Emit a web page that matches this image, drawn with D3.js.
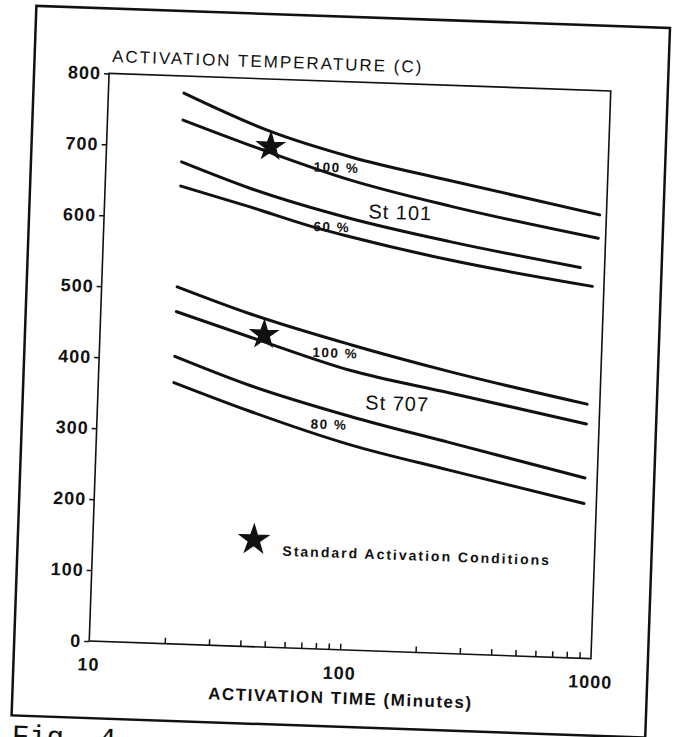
<!DOCTYPE html>
<html>
<head>
<meta charset="utf-8">
<script src="https://cdn.jsdelivr.net/npm/d3@7"></script>
<style>
  html, body { margin: 0; padding: 0; background: #fff; }
  svg { display: block; }
</style>
</head>
<body>
<svg id="chart" width="677" height="737"></svg>
<script>
// axis values
var timeTicks = [20, 30, 40, 50, 60, 70, 80, 90, 100, 200, 300, 400, 500, 600, 700, 800, 900];
var timeLabels = [10, 100, 1000];
var tempTicks = [0, 100, 200, 300, 400, 500, 600, 700, 800];

// curves, [minutes, deg C]
var st101Upper100 = [[20, 776], [45, 726], [95, 694], [235, 666], [940, 625]];
var st101Lower100 = [[20, 738], [41, 701], [94, 662], [238, 630], [935, 592]];
var st101Upper60 = [[20, 679], [38, 645], [95, 608], [240, 580], [800, 550]];
var st101Lower60 = [[20, 645], [38, 619], [68, 594], [96, 582], [242, 554], [900, 524]];
var st707Upper100 = [[20, 503], [39, 469], [100, 430], [250, 397], [890, 358]];
var st707Lower100 = [[20, 468], [43, 432], [100, 394], [252, 367], [890, 330]];
var st707Upper80 = [[20, 405], [40, 368], [102, 329], [256, 297], [894, 254]];
var st707Lower80 = [[20, 368], [40, 332], [103, 289], [259, 258], [893, 218]];

// standard activation conditions (stars)
var stdConditions = [[45, 705], [45, 440]];

// in-plot labels: text, minutes, deg C
var labelTexts = ["100 %", "St 101", "60 %", "100 %", "St 707", "80 %"];
var labelTimes = [83, 151, 81, 87, 156, 84];
var labelTemps = [679, 619, 595, 418, 350, 317];
var labelBig = [false, true, false, false, true, false];

var curves = [st101Upper100, st101Lower100, st101Upper60, st101Lower60,
              st707Upper100, st707Lower100, st707Upper80, st707Lower80];

var ink = "#111";
var plotLeft = 99, plotTop = 82, plotW = 502, plotH = 568;
var fontSans = "'Liberation Sans', Arial, sans-serif";

var svg = d3.select("#chart");
// the scan is tilted a little, so the whole page is turned
var page = svg.append("g").attr("transform", "rotate(2, 350, 366)");

var x = d3.scaleLog().domain([10, 1000]).range([plotLeft, plotLeft + plotW]);
var y = d3.scaleLinear().domain([0, 800]).range([plotTop + plotH, plotTop]);

// outer border of the figure
page.append("rect")
  .attr("x", 24).attr("y", 17)
  .attr("width", 634).attr("height", 710)
  .attr("fill", "none").attr("stroke", ink).attr("stroke-width", 2.5);

// plot frame
page.append("rect")
  .attr("x", plotLeft).attr("y", plotTop)
  .attr("width", plotW).attr("height", plotH)
  .attr("fill", "none").attr("stroke", ink).attr("stroke-width", 1.6);

// y axis
var yAxis = page.append("g")
  .attr("transform", "translate(" + plotLeft + ",0)")
  .call(d3.axisLeft(y).tickValues(tempTicks).tickSize(5).tickPadding(3).tickFormat(d3.format("d")));
yAxis.select(".domain").remove();
yAxis.selectAll("line").attr("stroke", ink).attr("stroke-width", 1.5);
yAxis.selectAll("text")
  .attr("fill", ink)
  .style("font-family", fontSans)
  .style("font-size", "18px").style("font-weight", "bold")
  .style("letter-spacing", "1px");

// x axis, minor ticks pointing in
var xAxis = page.append("g")
  .attr("transform", "translate(0," + (plotTop + plotH) + ")")
  .call(d3.axisBottom(x).tickValues(timeTicks).tickSize(-6).tickFormat(""));
xAxis.select(".domain").remove();
xAxis.selectAll("line").attr("stroke", ink).attr("stroke-width", 1.5);

page.selectAll(".xlab")
  .data(timeLabels)
  .enter().append("text")
  .attr("class", "xlab")
  .attr("x", function(d) { return x(d); })
  .attr("y", plotTop + plotH + 29.5)
  .attr("text-anchor", "middle")
  .attr("fill", ink)
  .style("font-family", fontSans)
  .style("font-size", "18px").style("font-weight", "bold")
  .style("letter-spacing", "1px")
  .text(function(d) { return d; });

// axis titles
page.append("text")
  .attr("x", plotLeft + 2.5).attr("y", plotTop - 11.5)
  .attr("fill", ink)
  .style("font-family", fontSans)
  .style("font-size", "17px")
  .style("letter-spacing", "2px")
  .text("ACTIVATION TEMPERATURE (C)");

page.append("text")
  .attr("x", plotLeft + plotW / 2 + 2).attr("y", plotTop + plotH + 54)
  .attr("text-anchor", "middle")
  .attr("fill", ink)
  .style("font-family", fontSans)
  .style("font-size", "17px").style("font-weight", "bold")
  .style("letter-spacing", "1.5px")
  .text("ACTIVATION TIME (Minutes)");

// curves
var line = d3.line()
  .x(function(d) { return x(d[0]); })
  .y(function(d) { return y(d[1]); })
  .curve(d3.curveMonotoneX);

page.selectAll(".curve")
  .data(curves)
  .enter().append("path")
  .attr("class", "curve")
  .attr("d", line)
  .attr("fill", "none")
  .attr("stroke", ink)
  .attr("stroke-width", 3)
  .attr("stroke-linecap", "round");

// stars
var star = d3.symbol().type(d3.symbolStar);
page.selectAll(".std")
  .data(stdConditions)
  .enter().append("path")
  .attr("class", "std")
  .attr("transform", function(d) { return "translate(" + x(d[0]) + "," + y(d[1]) + ")"; })
  .attr("d", star.size(230)())
  .attr("fill", ink).attr("stroke", ink).attr("stroke-width", 1.2);

// curve labels
page.selectAll(".clab")
  .data(labelTexts)
  .enter().append("text")
  .attr("class", "clab")
  .attr("x", function(d, i) { return x(labelTimes[i]); })
  .attr("y", function(d, i) { return y(labelTemps[i]); })
  .attr("dy", "0.36em")
  .attr("text-anchor", "middle")
  .attr("fill", ink)
  .style("font-family", fontSans)
  .style("font-size", function(d, i) { return labelBig[i] ? "20px" : "13.5px"; })
  .style("font-weight", function(d, i) { return labelBig[i] ? "normal" : "bold"; })
  .style("letter-spacing", function(d, i) { return labelBig[i] ? "1px" : "1.5px"; })
  .text(function(d) { return d; });

// legend
var legend = page.append("g").attr("transform", "translate(260,543)");
legend.append("path")
  .attr("d", star.size(260)())
  .attr("fill", ink).attr("stroke", ink).attr("stroke-width", 1.2);
legend.append("text")
  .attr("x", 29).attr("y", 10)
  .attr("dy", "0.36em")
  .attr("fill", ink)
  .style("font-family", fontSans)
  .style("font-size", "14px").style("font-weight", "bold")
  .style("letter-spacing", "2px")
  .text("Standard Activation Conditions");

// caption under the border, cut by the page edge
page.append("text")
  .attr("x", 25).attr("y", 756)
  .attr("fill", ink)
  .style("font-family", "'Liberation Mono', 'DejaVu Sans Mono', monospace")
  .style("font-size", "29px")
  .text("Fig. 4");
</script>
</body>
</html>
